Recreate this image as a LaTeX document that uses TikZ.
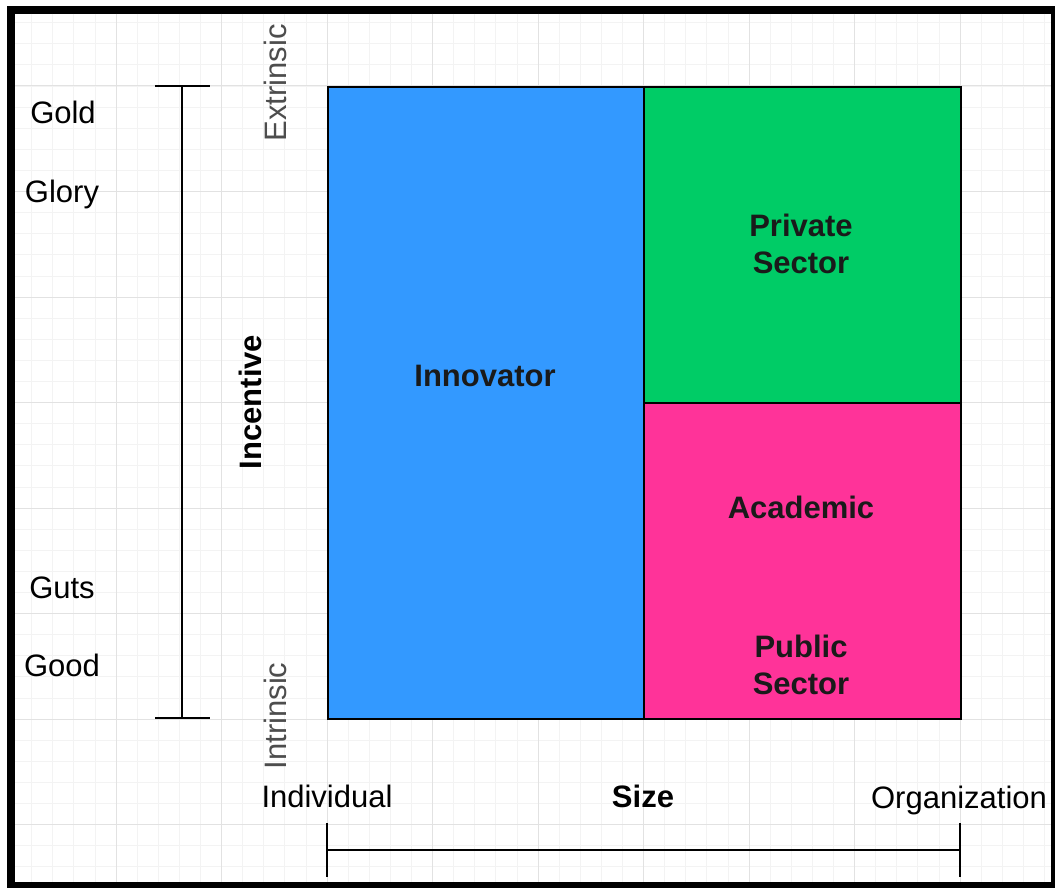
\documentclass[tikz,border=0pt]{standalone}
\usepackage{fontspec}
\setmainfont{Liberation Sans}
\definecolor{innoblue}{HTML}{3399FF}
\definecolor{privgreen}{HTML}{00CC66}
\definecolor{acadpink}{HTML}{FF3399}
\definecolor{minorgrid}{HTML}{F3F3F3}
\definecolor{majorgrid}{HTML}{E2E2E2}
\definecolor{axisgray}{HTML}{4D4D4D}
\definecolor{boxtext}{HTML}{1A1A1A}
\begin{document}
\begin{tikzpicture}[x=1pt,y=-1pt,
  lbl/.style={font=\fontsize{31}{37}\selectfont, inner sep=0pt, anchor=base},
  boldlbl/.style={lbl, font=\fontsize{31}{37}\selectfont\bfseries},
  boxlbl/.style={font=\fontsize{31}{37}\selectfont\bfseries, text=boxtext, align=center, inner sep=0pt},
  quad/.style={draw=black, line width=1.8pt},
  bracket/.style={draw=black, line width=1.8pt}]
% canvas
\useasboundingbox (0,0) rectangle (1055,888);
\fill[white] (0,0) rectangle (1055,888);
\fill[black] (7,6) rectangle (1055,888);
\fill[white] (15,14) rectangle (1051,882);
% grid
\begin{scope}
\clip (15,14) rectangle (1051,882);
\foreach \i in {-20,...,40} {
  \draw[minorgrid, line width=0.8pt] ({327+21.1*\i},14) -- ({327+21.1*\i},882);
  \draw[minorgrid, line width=0.8pt] (15,{86+21.1*\i}) -- (1051,{86+21.1*\i});
}
\foreach \i in {-4,...,8} {
  \draw[majorgrid, line width=1pt] ({327+105.5*\i},14) -- ({327+105.5*\i},882);
  \draw[majorgrid, line width=1pt] (15,{86+105.5*\i}) -- (1051,{86+105.5*\i});
}
\end{scope}
% quadrants
\node[quad, fill=innoblue, minimum width=316pt, minimum height=632pt, inner sep=0pt, anchor=north west] (inno) at (327,86) {};
\node[quad, fill=privgreen, minimum width=317pt, minimum height=316pt, inner sep=0pt, anchor=north west] (priv) at (643,86) {};
\node[quad, fill=acadpink, minimum width=317pt, minimum height=316pt, inner sep=0pt, anchor=north west] (acad) at (643,402) {};
\node[boxlbl] (innolbl) at (485,376) {Innovator};
\node[boxlbl] (privlbl) at (801,244) {Private\\Sector};
\node[boxlbl] (acadlbl) at (801,507) {Academic};
\node[boxlbl] (publbl) at (801,665) {Public\\Sector};
% vertical bracket
\coordinate (vt) at (182,86);
\coordinate (vb) at (182,718);
\coordinate (vtl) at (155,86);
\coordinate (vtr) at (210,86);
\coordinate (vbl) at (155,718);
\coordinate (vbr) at (210,718);
\draw[bracket] (vt) -- (vb);
\draw[bracket] (vtl) -- (vtr);
\draw[bracket] (vbl) -- (vbr);
% horizontal bracket
\coordinate (hl) at (327,850);
\coordinate (hr) at (960,850);
\coordinate (hlt) at (327,823);
\coordinate (hlb) at (327,877);
\coordinate (hrt) at (960,823);
\coordinate (hrb) at (960,877);
\draw[bracket] (hl) -- (hr);
\draw[bracket] (hlt) -- (hlb);
\draw[bracket] (hrt) -- (hrb);
% left labels
\node[lbl] (gold) at (63,124) {Gold};
\node[lbl] (glory) at (62,202) {Glory};
\node[lbl] (guts) at (62,598) {Guts};
\node[lbl] (good) at (62,676) {Good};
% rotated labels
\node[lbl, text=axisgray, rotate=90] (extr) at (286,83) {Extrinsic};
\node[lbl, text=axisgray, rotate=90] (intr) at (286,716) {Intrinsic};
\node[boldlbl, rotate=90] (inc) at (261,402) {Incentive};
% bottom labels
\node[lbl] (indiv) at (327,807) {Individual};
\node[boldlbl] (size) at (643,807) {Size};
\node[lbl] (org) at (959,808) {Organization};
\end{tikzpicture}
\end{document}
